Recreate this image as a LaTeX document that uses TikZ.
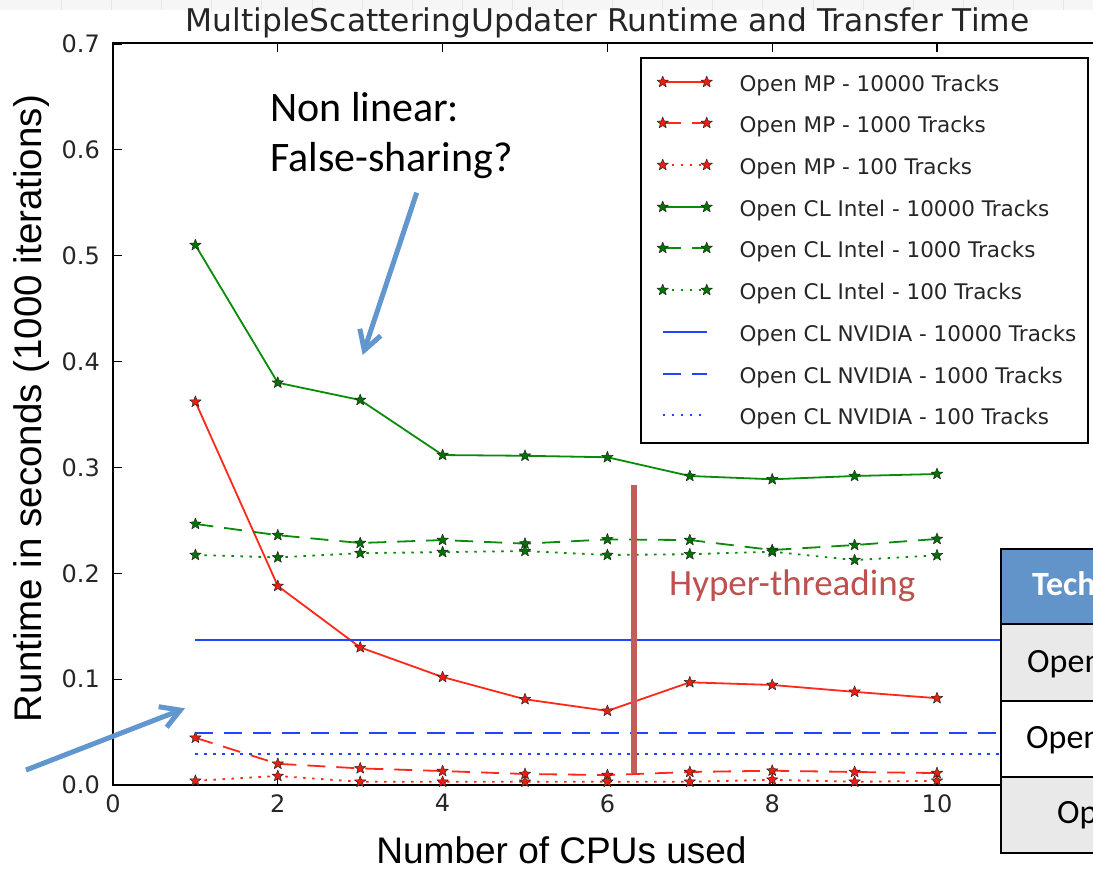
\documentclass[tikz,border=0pt]{standalone}
\usepackage{fontspec}
\setmainfont{DejaVu Sans}
\newfontfamily\slidefont{Carlito}
\newfontfamily\arialfont{Liberation Sans}
\usetikzlibrary{arrows.meta}

% filled five-point star used as the data marker
\pgfdeclareplotmark{fstar}{%
  \pgfpathmoveto{\pgfpointpolar{90}{\pgfplotmarksize}}%
  \pgfpathlineto{\pgfpointpolar{126}{0.42\pgfplotmarksize}}%
  \pgfpathlineto{\pgfpointpolar{162}{\pgfplotmarksize}}%
  \pgfpathlineto{\pgfpointpolar{198}{0.42\pgfplotmarksize}}%
  \pgfpathlineto{\pgfpointpolar{234}{\pgfplotmarksize}}%
  \pgfpathlineto{\pgfpointpolar{270}{0.42\pgfplotmarksize}}%
  \pgfpathlineto{\pgfpointpolar{306}{\pgfplotmarksize}}%
  \pgfpathlineto{\pgfpointpolar{342}{0.42\pgfplotmarksize}}%
  \pgfpathlineto{\pgfpointpolar{18}{\pgfplotmarksize}}%
  \pgfpathlineto{\pgfpointpolar{54}{0.42\pgfplotmarksize}}%
  \pgfpathclose
  \pgfusepathqfillstroke
}

\definecolor{mpred}{RGB}{255,40,25}
\definecolor{mkred}{RGB}{235,30,15}
\definecolor{clgreen}{RGB}{10,140,10}
\definecolor{mkgreen}{RGB}{0,115,0}
\definecolor{nvblue}{RGB}{30,70,255}
\definecolor{callout}{RGB}{98,150,206}
\definecolor{htred}{RGB}{196,92,90}
\definecolor{httext}{RGB}{190,80,78}
\definecolor{hdrblue}{RGB}{98,148,202}
\definecolor{rowgray}{RGB}{233,233,233}
\definecolor{stripgray}{RGB}{246,246,246}

\tikzset{
  series/.style={line width=1.8pt, line join=round, mark=fstar, mark size=6pt,
    mark options={solid, line width=0.5pt, draw=black!85, fill=#1}},
  dashline/.style={dash pattern=on 18pt off 11pt},
  dotline/.style={dash pattern=on 2.5pt off 6.5pt},
  mpsolid/.style={series=mkred, draw=mpred},
  mpdash/.style={mpsolid, dashline},
  mpdot/.style={mpsolid, dotline},
  clsolid/.style={series=mkgreen, draw=clgreen},
  cldash/.style={clsolid, dashline},
  cldot/.style={clsolid, dotline},
  nvsolid/.style={draw=nvblue, line width=2pt},
  nvdash/.style={nvsolid, dashline},
  nvdot/.style={nvsolid, dotline},
  ticklabel/.style={inner sep=0pt, text=black!85, font=\fontsize{24}{28}\selectfont},
  legtext/.style={inner sep=0pt, anchor=base west, text=black!85, font=\fontsize{21.5}{26}\selectfont},
  axislabel/.style={inner sep=0pt, anchor=base, font=\arialfont\fontsize{37}{44}\selectfont},
  slidetext/.style={inner sep=0pt, anchor=base west, font=\slidefont\fontsize{42}{50}\selectfont},
  callarrow/.style={draw=callout, line width=5pt,
    -{Straight Barb[length=19pt, width=22pt, line width=5pt]}},
  cell/.style={draw=black, line width=2pt},
  celltext/.style={inner sep=0pt, anchor=base west, font=\slidefont\fontsize{34}{40}\selectfont},
}

\begin{document}
\begin{tikzpicture}[x=1pt, y=-1pt]
\useasboundingbox (0,0) rectangle (1093,873);
\fill[white] (0,0) rectangle (1093,873);

% slide background strip along the top edge
\fill[stripgray] (0,0) rectangle (1093,10);
\foreach \k in {0,...,20}
  \draw[black!10, line width=1pt] ({61.5+50.1*\k},0) -- ({61.5+50.1*\k},10);

% title
\node[anchor=base, inner sep=0pt, text=black!85, font=\fontsize{31.3}{36}\selectfont] (title)
  at (607.5,31.5) {MultipleScatteringUpdater Runtime and Transfer Time};

% axes frame and ticks
\draw[line width=1.4pt] (113,43) rectangle (1102,785);
\foreach \i in {0,...,6} {
  \draw[line width=1.1pt] ({113+164.8*\i},785) -- ++(0,-9);
  \draw[line width=1.1pt] ({113+164.8*\i},43) -- ++(0,9);
}
\foreach \i in {0,...,7} {
  \draw[line width=1.1pt] (113,{785-105.86*\i}) -- ++(9,0);
  \draw[line width=1.1pt] (1102,{785-105.86*\i}) -- ++(-9,0);
  \node[ticklabel, anchor=east] (yt\i) at (100,{785-105.86*\i}) {0.\i};
}
\foreach \i in {0,...,5} {
  \pgfmathtruncatemacro{\lab}{2*\i}
  \node[ticklabel, anchor=north] (xt\i) at ({113+164.8*\i},794) {\lab};
}

% data series (x in CPUs, y in seconds)
\begin{scope}[shift={(113,785)}, x=82.4pt, y=1058.6pt]
  \draw[mpsolid] plot coordinates {(1,0.362) (2,0.188) (3,0.130) (4,0.102) (5,0.081)
    (6,0.070) (7,0.097) (8,0.0945) (9,0.088) (10,0.082)};
  \draw[mpdash] plot coordinates {(1,0.0446) (2,0.020) (3,0.0157) (4,0.0132)
    (5,0.0104) (6,0.0094) (7,0.0123) (8,0.0135) (9,0.0123) (10,0.0113)};
  \draw[mpdot] plot coordinates {(1,0.004) (2,0.0085) (3,0.003) (4,0.003)
    (5,0.003) (6,0.003) (7,0.003) (8,0.005) (9,0.003) (10,0.004)};
  \draw[clsolid] plot coordinates {(1,0.510) (2,0.380) (3,0.3637) (4,0.3117) (5,0.311)
    (6,0.3096) (7,0.2919) (8,0.2888) (9,0.2919) (10,0.2938)};
  \draw[cldash] plot coordinates {(1,0.2466) (2,0.236) (3,0.2286) (4,0.2314)
    (5,0.228) (6,0.232) (7,0.2314) (8,0.222) (9,0.2267) (10,0.2324)};
  \draw[cldot] plot coordinates {(1,0.2173) (2,0.215) (3,0.219) (4,0.220)
    (5,0.221) (6,0.2173) (7,0.218) (8,0.2204) (9,0.2125) (10,0.217)};
  \draw[nvsolid] (1,0.13697) -- (12,0.13697);
  \draw[nvdash] (1,0.04912) -- (12,0.04912);
  \draw[nvdot] (1,0.02928) -- (12,0.02928);
\end{scope}

% legend
\draw[line width=1.4pt, fill=white] (641,58) rectangle (1088,443);
\foreach \i/\st/\lab in {
    1/mpsolid/{Open MP - 10000 Tracks},
    2/mpdash/{Open MP - 1000 Tracks},
    3/mpdot/{Open MP - 100 Tracks},
    4/clsolid/{Open CL Intel - 10000 Tracks},
    5/cldash/{Open CL Intel - 1000 Tracks},
    6/cldot/{Open CL Intel - 100 Tracks},
    7/nvsolid/{Open CL NVIDIA - 10000 Tracks},
    8/nvdash/{Open CL NVIDIA - 1000 Tracks},
    9/nvdot/{Open CL NVIDIA - 100 Tracks}} {
  \pgfmathsetmacro{\ly}{round(81.7+41.7*(\i-1))}
  \draw[\st] plot coordinates {(662.7,\ly) (706.7,\ly)};
  \node[legtext] (leg\i) at (739.3,{\ly+9.5}) {\lab};
}

% hyper-threading marker
\coordinate (htTop) at (634,485);
\coordinate (htBot) at (634,773);
\draw[htred, line width=5.5pt] (htTop) -- (htBot);
\node[slidetext, text=httext, font=\slidefont\fontsize{37}{42}\selectfont] (ht)
  at (669,595) {Hyper-threading};

% callout about the non-linear scaling
\node[slidetext] (nl1) at (270,121) {Non linear:};
\node[slidetext] (nl2) at (270,171.5) {False-sharing?};
\coordinate (a1s) at (416.7,192.7);
\coordinate (a1e) at (362.7,355);
\draw[callarrow] (a1s) -- (a1e);
\coordinate (a2s) at (26,770);
\coordinate (a2e) at (185,708.3);
\draw[callarrow] (a2s) -- (a2e);

% axis labels
\node[axislabel] (xlab) at (561.5,863) {Number of CPUs used};
\node[axislabel, rotate=90, font=\arialfont\fontsize{38.5}{44}\selectfont] (ylab)
  at (41,408.5) {Runtime in seconds (1000 iterations)};

% table at the right edge
\fill[hdrblue] (1001,549) rectangle (1200,624.3);
\fill[rowgray] (1001,624.3) rectangle (1200,700.7);
\fill[white] (1001,700.7) rectangle (1200,776.7);
\fill[rowgray] (1001,776.7) rectangle (1200,852.7);
\draw[cell] (1001,549) rectangle (1200,852.7);
\draw[cell] (1001,624.3) -- (1200,624.3);
\draw[cell] (1001,700.7) -- (1200,700.7);
\draw[cell] (1001,776.7) -- (1200,776.7);
\node[celltext, text=white, font=\slidefont\bfseries\fontsize{34}{40}\selectfont] (th)
  at (1032,595.5) {Tech};
\node[celltext] (r1) at (1027,672.5) {Open};
\node[celltext] (r2) at (1026,748.3) {Open};
\node[celltext] (r3) at (1057,823.3) {Op};
\end{tikzpicture}
\end{document}
